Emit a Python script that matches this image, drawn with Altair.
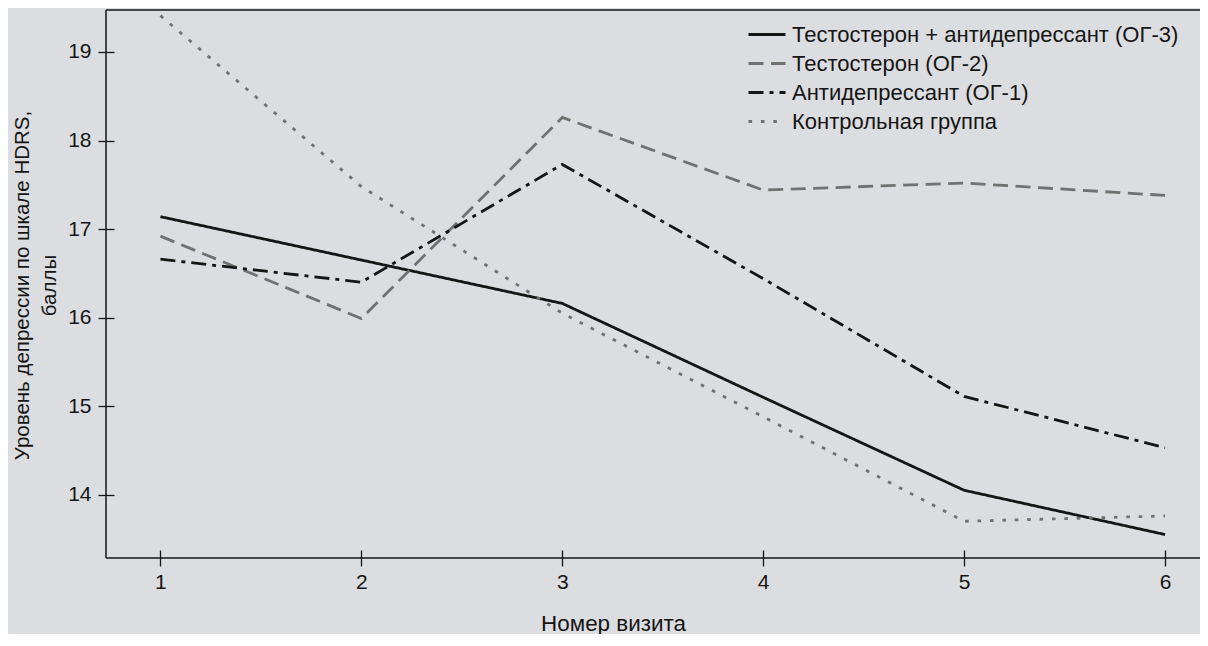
import altair as alt
import pandas as pd

# ---- data ----
visits = [1, 2, 3, 4, 5, 6]
series_names = [
    "Тестостерон + антидепрессант (ОГ-3)",
    "Тестостерон (ОГ-2)",
    "Антидепрессант (ОГ-1)",
    "Контрольная группа",
]
og3 = [17.14, 16.65, 16.16, 15.10, 14.05, 13.55]
og2 = [16.92, 15.99, 18.26, 17.44, 17.52, 17.38]
og1 = [16.66, 16.40, 17.73, 16.44, 15.11, 14.53]
control = [19.41, 17.48, 16.05, 14.88, 13.70, 13.76]
y_ticks = [14, 15, 16, 17, 18, 19]

x_title = "Номер визита"
y_title = ["Уровень депрессии по шкале HDRS,", "баллы"]

rows = []
for name, vals in zip(series_names, [og3, og2, og1, control]):
    for v, s in zip(visits, vals):
        rows.append({"visit": v, "score": s, "group": name})
df = pd.DataFrame(rows)

# ---- styling ----
BG = "#dcdde0"
INK = "#151515"
GRAY = "#717171"
FONT = "Liberation Sans"
W, H = 1094, 548

colors = [INK, GRAY, INK, GRAY]
dashes = [[1, 0], [15, 7.5], [15, 6, 4, 6], [3.6, 8.8]]
widths = [2.8, 2.8, 2.8, 3.6]

legend = alt.Legend(
    title=None,
    orient="none",
    legendX=641,
    legendY=10,
    symbolType="stroke",
    symbolSize=1369,
    labelFontSize=22,
    labelFont=FONT,
    labelColor=INK,
    labelOffset=5,
    rowPadding=0,
    clipHeight=29,
    padding=0,
    symbolOffset=0,
    labelLimit=600,
)

x_scale = alt.Scale(domain=[0.729, 6.174], nice=False, zero=False)
y_scale = alt.Scale(domain=[13.285, 19.474], nice=False, zero=False)

lines = alt.Chart(df).mark_line(clip=True).encode(
    x=alt.X(
        "visit:Q",
        scale=x_scale,
        axis=alt.Axis(
            values=visits,
            format="d",
            title=x_title,
            titleX=507,
            titleY=80,
            titleBaseline="alphabetic",
            titleAlign="center",
            titleFontSize=22.4,
            titleFontWeight="normal",
            titleFont=FONT,
            titleColor=INK,
            domain=False,
            offset=-8,
            tickSize=16,
            tickColor=INK,
            tickWidth=1.3,
            labelPadding=5,
            labelFontSize=21,
            labelFont=FONT,
            labelColor=INK,
            grid=False,
        ),
    ),
    y=alt.Y(
        "score:Q",
        scale=y_scale,
        axis=alt.Axis(
            values=y_ticks,
            format="d",
            title=y_title,
            titleX=-86,
            titleY=275,
            titleAngle=-90,
            titleAlign="center",
            titleBaseline="alphabetic",
            titleLineHeight=27,
            titleFontSize=20.5,
            titleFontWeight="normal",
            titleFont=FONT,
            titleColor=INK,
            domain=False,
            offset=-8,
            tickSize=16,
            tickColor=INK,
            tickWidth=1.3,
            labelPadding=7,
            labelFontSize=21,
            labelFont=FONT,
            labelColor=INK,
            grid=False,
        ),
    ),
    color=alt.Color(
        "group:N",
        scale=alt.Scale(domain=series_names, range=colors),
        legend=legend,
    ),
    strokeDash=alt.StrokeDash(
        "group:N",
        scale=alt.Scale(domain=series_names, range=dashes),
        legend=legend,
    ),
    strokeWidth=alt.StrokeWidth(
        "group:N",
        scale=alt.Scale(domain=series_names, range=widths),
        legend=legend,
    ),
)

one = pd.DataFrame({"k": [0]})
frame_left = alt.Chart(one).mark_rule(color=INK, strokeWidth=1.5).encode(
    x=alt.value(0), y=alt.value(0), y2=alt.value(H)
)
frame_top = alt.Chart(one).mark_rule(color=INK, strokeWidth=1.5).encode(
    x=alt.value(0), x2=alt.value(W), y=alt.value(0)
)
frame_bottom = alt.Chart(one).mark_rule(color=INK, strokeWidth=1.5).encode(
    x=alt.value(0), x2=alt.value(W), y=alt.value(H)
)

chart = (
    alt.layer(lines, frame_left, frame_top, frame_bottom)
    .properties(
        width=W,
        height=H,
        background=BG,
        autosize=alt.AutoSizeParams(type="none"),
        padding={"left": 98, "top": 2, "right": 0, "bottom": 76},
    )
    .configure_view(stroke=None)
    .configure(font=FONT)
)

chart.save("out.html", embed_options={"renderer": "svg", "actions": False})
